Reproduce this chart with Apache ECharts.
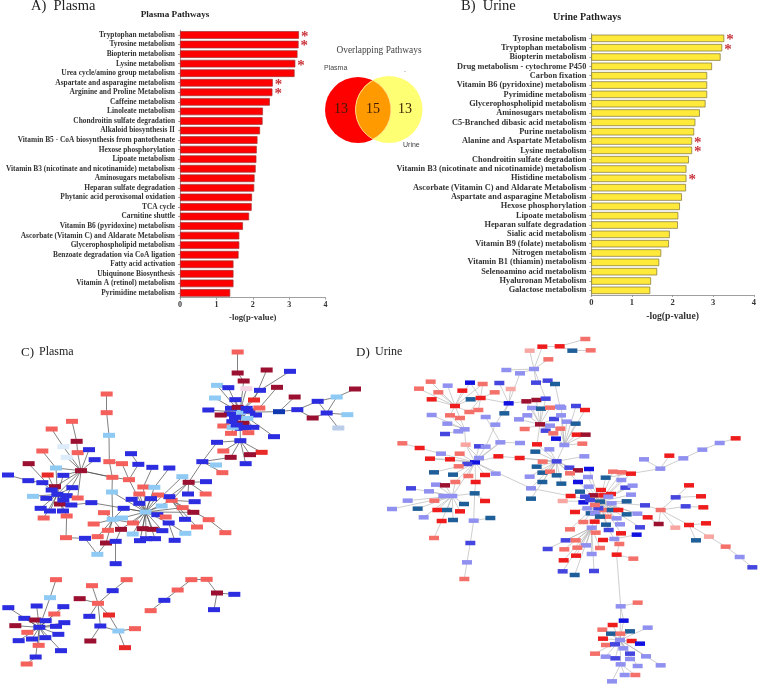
<!DOCTYPE html>
<html><head><meta charset="utf-8">
<style>html,body{margin:0;padding:0;background:#fff}#c{width:759px;height:684px}</style>
<script src="https://cdn.jsdelivr.net/npm/echarts@6/dist/echarts.min.js"></script>
</head><body><div id="c"></div>
<script>
const plasmaPathways=['Tryptophan metabolism','Tyrosine metabolism','Biopterin metabolism','Lysine metabolism','Urea cycle/amino group metabolism','Aspartate and asparagine metabolism','Arginine and Proline Metabolism','Caffeine metabolism','Linoleate metabolism','Chondroitin sulfate degradation','Alkaloid biosynthesis II','Vitamin B5 - CoA biosynthesis from pantothenate','Hexose phosphorylation','Lipoate metabolism','Vitamin B3 (nicotinate and nicotinamide) metabolism','Aminosugars metabolism','Heparan sulfate degradation','Phytanic acid peroxisomal oxidation','TCA cycle','Carnitine shuttle','Vitamin B6 (pyridoxine) metabolism','Ascorbate (Vitamin C) and Aldarate Metabolism','Glycerophospholipid metabolism','Benzoate degradation via CoA ligation','Fatty acid activation','Ubiquinone Biosynthesis','Vitamin A (retinol) metabolism','Pyrimidine metabolism'];
const plasmaValues=[3.27,3.26,3.23,3.17,3.15,2.55,2.54,2.47,2.28,2.27,2.20,2.13,2.11,2.10,2.08,2.05,2.04,1.98,1.97,1.90,1.73,1.63,1.63,1.61,1.47,1.47,1.47,1.38];
const plasmaStarred=[0,1,3,5,6];
const urinePathways=['Tyrosine metabolism','Tryptophan metabolism','Biopterin metabolism','Drug metabolism - cytochrome P450','Carbon fixation','Vitamin B6 (pyridoxine) metabolism','Pyrimidine metabolism','Glycerophospholipid metabolism','Aminosugars metabolism','C5-Branched dibasic acid metabolism','Purine metabolism','Alanine and Aspartate Metabolism','Lysine metabolism','Chondroitin sulfate degradation','Vitamin B3 (nicotinate and nicotinamide) metabolism','Histidine metabolism','Ascorbate (Vitamin C) and Aldarate Metabolism','Aspartate and asparagine Metabolism','Hexose phosphorylation','Lipoate metabolism','Heparan sulfate degradation','Sialic acid metabolism','Vitamin B9 (folate) metabolism','Nitrogen metabolism','Vitamin B1 (thiamin) metabolism','Selenoamino acid metabolism','Hyaluronan Metabolism','Galactose metabolism'];
const urineValues=[3.27,3.22,3.18,2.97,2.85,2.85,2.85,2.81,2.67,2.56,2.53,2.48,2.48,2.40,2.34,2.34,2.33,2.23,2.18,2.14,2.13,1.93,1.91,1.72,1.67,1.62,1.47,1.45];
const urineStarred=[0,1,11,12,15];
const xTicks=[0,1,2,3,4];
const vennSets=[[358,110,33],[389,109.5,33.5]];
const vennCounts=[[341,109,13],[373,109,15],[405,109,13]];

// Network panels: node positions, flat x,y,class triples; first node of a star is its hub.
const plasmaStars=[
[720,217,'l',693,205,'b',713,202,'d',748,213,'b',690,222,'b',768,225,'b',742,235,'l',697,245,'b',730,250,'d',662,225,'d',670,258,'r',760,262,'b',722,265,'b',698,262,'l',693,280,'r',745,278,'r',625,210,'b',706,179,'b',762,180,'R',778,204,'r',731,123,'d',651,136,'l',685,143,'b',739,146,'k',780,151,'b',645,174,'l',822,290,'b',721,302,'b',837,215,'n',740,205,'b',705,232,'b',735,262,'b',710,255,'b'],
[721,302,'b',670,333,'r',785,337,'R',692,352,'d',750,344,'d',737,371,'b',651,307,'b'],
[607,365,'b',648,375,'l',667,398,'r',692,352,'d',651,307,'b',566,427,'d'],
[566,427,'d',547,410,'l',618,425,'b',564,462,'b',515,481,'r',617,462,'r',508,470,'b'],
[437,516,'l',547,410,'l',430,441,'r',463,442,'l',418,462,'r',474,465,'r',395,478,'b',453,476,'b',418,490,'b',515,481,'r',485,498,'l',548,503,'r',371,505,'b',472,524,'b',497,531,'r',506,549,'b',399,549,'r',428,566,'d',458,568,'d',487,572,'b',398,582,'l',438,596,'b',465,596,'b',420,602,'b',363,568,'d',274,488,'b',580,517,'d',366,534,'l',387,419,'r',336,456,'l'],
[515,481,'r',584,485,'b',555,538,'b',626,539,'r',548,503,'r',591,561,'r'],
[338,538,'l',371,505,'b',281,552,'r',312,518,'r',399,549,'r',324,571,'r',363,568,'d',293,590,'r',318,609,'d',336,456,'l'],
[243,392,'d',233,338,'r',267,329,'b',284,359,'b',168,384,'l',200,352,'w',172,463,'b',200,467,'b',165,440,'d',233,474,'r',190,406,'b',190,320,'w',337,412,'r'],
[172,463,'b',168,384,'l',143,405,'R',127,428,'b',165,440,'d',190,406,'b',217,443,'b',99,469,'l',139,475,'b',200,467,'b',233,474,'r',180,492,'d',214,495,'b',122,505,'b',150,513,'b',189,513,'b',131,534,'r',200,528,'r',86,371,'d',155,450,'b',190,480,'b'],
[118,862,'b',150,773,'l',110,798,'b',73,835,'b',106,840,'d',137,842,'b',163,822,'r',193,848,'b',46,857,'d',168,859,'b',82,877,'r',175,883,'b',56,902,'b',96,897,'b',136,893,'b',116,916,'r',183,932,'b',107,951,'b',190,800,'b',25,803,'b'],
[294,790,'r',276,737,'r',338,752,'b',239,776,'d',268,829,'b',327,825,'R',301,858,'b'],
[355,873,'l',301,858,'b',327,825,'R',405,866,'r',375,923,'R']
];
const plasmaChains=[
[713,36,'r',713,99,'d',731,123,'d'],[800,90,'d',762,180,'R'],[870,94,'b',780,151,'b'],[831,142,'d',778,204,'r'],
[884,171,'d',837,215,'n',892,209,'b',953,184,'b',1010,171,'l',980,219,'b',953,184,'b'],[980,219,'b',1015,264,'g'],[892,209,'b',938,234,'d',980,219,'b',1042,224,'l'],[1010,171,'l',1065,147,'d'],
[243,392,'d',337,412,'r',387,419,'r'],[337,412,'r',328,365,'r',327,286,'l',320,218,'r',320,162,'r'],[328,365,'r',366,371,'r',387,419,'r',415,373,'b',393,341,'b'],
[457,382,'b',430,441,'r'],[508,384,'b',463,442,'l'],[336,456,'l',337,412,'r'],[626,539,'r',676,578,'r'],
[347,671,'b',347,604,'b',363,568,'d'],[292,643,'l',318,609,'d'],[292,643,'l',255,595,'b',198,593,'r',200,528,'r'],[506,549,'b',524,601,'b'],[506,549,'b',556,580,'l'],
[216,244,'r',230,304,'d',233,338,'r'],[155,267,'r',190,320,'w'],[24,405,'b',85,422,'b',127,428,'b'],[127,333,'r',168,384,'l'],[214,495,'b',274,488,'b'],
[168,719,'r',150,773,'l'],[107,951,'b',80,972,'r'],[338,752,'b',380,719,'r'],[301,858,'b',271,903,'d'],
[452,812,'r',493,781,'b',533,750,'r',574,719,'r',620,718,'r',651,759,'d',703,763,'b'],[651,759,'d',642,809,'b']
];
const urineStars=[
[750,485,'t',700,487,'B',720,480,'s',785,490,'v',830,484,'t',885,496,'s',675,516,'R',722,520,'t',735,520,'v',763,510,'r',785,510,'t',805,510,'R',830,523,'t',862,521,'v',893,532,'R',734,545,'R',700,546,'r',768,554,'t',810,553,'v',870,562,'s',725,563,'v',690,455,'t',662,468,'R',638,483,'p',716,440,'v',753,450,'R',730,466,'d',760,466,'R',783,462,'R',843,464,'v',767,413,'t',814,420,'v',826,443,'s',848,437,'v',789,395,'r',815,397,'r',843,401,'R',684,426,'B',714,411,'v',717,387,'B',776,570,'s',813,580,'R',737,578,'r',660,568,'r',745,505,'s',712,505,'v',770,530,'r',800,535,'v',750,530,'t',735,495,'r',775,470,'v',705,470,'s'],
[725,563,'v',647,601,'s',677,601,'r',708,616,'v',593,627,'s',643,628,'r',682,623,'r',750,624,'r',725,642,'v',678,647,'R',641,661,'R',638,694,'s',674,705,'t',732,693,'s'],
[793,597,'v',776,570,'s',759,600,'R',808,612,'r',813,580,'R',860,584,'B'],
[800,644,'R',808,612,'r',850,656,'r',812,799,'v'],
[620,364,'s',643,315,'v',598,328,'v',556,335,'t',578,365,'r',560,380,'t',577,398,'t',600,395,'r',620,406,'t',658,383,'s',684,391,'d',660,400,'r',703,349,'v',577,426,'t',634,431,'t',539,410,'v',543,445,'v',543,476,'t',509,354,'R',561,313,'R',684,426,'B'],
[570,253,'d',546,204,'v',573,206,'t',600,203,'r',532,226,'v',507,238,'v',612,237,'s',600,257,'v',587,272,'s',524,267,'r',610,280,'r',561,313,'R',529,184,'d',559,180,'d',587,176,'s',631,266,'r'],
[643,315,'v',618,296,'B',631,266,'r',633,226,'v',650,245,'v',677,251,'t',678,198,'s',705,210,'R',634,203,'v',680,284,'R',707,284,'d',697,311,'r',587,272,'s'],
[375,367,'B',352,372,'s',387,354,'v',329,341,'r',326,379,'r',300,358,'R',273,341,'v',240,356,'R',309,404,'t',252,397,'t',355,408,'r',405,405,'R',437,401,'v',377,426,'R',445,349,'R',451,307,'v',387,319,'s',347,314,'p',316,426,'r',307,468,'v'],
[307,468,'v',280,468,'v',258,434,'v',285,436,'d',316,426,'r',237,454,'v',183,445,'s',173,482,'v',253,482,'r',342,492,'t',203,506,'t',262,510,'R',291,510,'t',330,514,'R',221,532,'v',275,543,'R',309,540,'t',374,460,'t',126,507,'v'],
[315,198,'R',337,152,'R',265,157,'r',245,178,'R',242,125,'r',293,137,'v',207,146,'r',300,226,'r',358,216,'r',330,234,'r',362,178,'t',360,128,'B',398,132,'r'],
[392,174,'R',360,128,'B',398,132,'r',362,178,'t',385,210,'r',358,216,'r',434,157,'r',476,190,'B'],
[476,190,'B',448,129,'s',482,147,'p',463,220,'t',436,254,'v',529,184,'d',510,100,'v'],
[552,87,'v',469,90,'v',510,100,'v',539,32,'p',577,20,'R',595,58,'r',558,128,'s',587,176,'s'],
[344,268,'v',325,274,'v',292,251,'v',285,282,'s',330,234,'r',300,226,'r',347,314,'p',245,225,'v'],
[932,510,'r',885,496,'s',977,472,'s',1007,499,'s',1017,555,'R',926,552,'d'],
[812,799,'v',863,788,'r',821,842,'B',810,900,'v'],
[810,900,'v',788,855,'R',757,869,'r',840,874,'t',783,881,'t',811,881,'r',893,863,'v',759,896,'R',845,903,'R',870,911,'B',768,915,'r',795,913,'s',820,925,'v',735,941,'r',767,950,'v',796,955,'s',840,941,'s',840,957,'v',888,949,'v',812,973,'v',863,978,'v',932,976,'v',821,842,'B'],
[812,973,'v',824,1005,'v',856,1005,'r',786,1024,'v']
];
const urineChains=[
[706,-3,'r',629,19,'R',577,20,'R'],[667,32,'t',722,31,'r'],[629,19,'R',667,32,'t'],[593,122,'s',615,132,'t',630,200,'v'],[558,128,'s',593,122,'s'],
[157,310,'r',209,324,'R',273,341,'v'],[240,356,'R',300,358,'R'],[347,314,'p',387,354,'v'],[407,231,'v',451,307,'v',387,354,'v'],[436,254,'v',407,320,'v',375,367,'B'],[510,309,'v',451,307,'v'],[445,349,'R',509,354,'R',620,364,'s'],
[375,367,'B',543,445,'v',662,468,'R'],[377,426,'R',374,460,'t',371,542,'v',361,609,'s',351,667,'v',343,717,'r'],[371,542,'v',421,534,'t'],[405,483,'R',374,460,'t'],[275,543,'R',252,594,'r'],
[767,413,'t',931,386,'v',1000,355,'v',1057,329,'v',1109,309,'v',1157,295,'R'],[931,386,'v',882,358,'v'],[931,386,'v',958,347,'R'],
[977,472,'s',1017,436,'R'],[977,472,'s',1053,469,'R'],[1007,499,'s',1060,502,'R'],[932,510,'r',976,563,'p'],[1017,555,'R',1068,550,'R'],[1017,555,'R',1038,601,'t'],[1017,555,'R',1077,590,'p',1127,620,'r',1169,651,'v',1207,682,'s'],[893,532,'R',926,552,'d']
];
const plasmaClasses={r:'#f4605c',d:'#9b1030',R:'#e82a28',b:'#2c2ce0',l:'#8fcaf5',w:'#dcecfb',k:'#f5d5e5',n:'#1038b0',g:'#b9cde8'};
const urineClasses={r:'#f4706a',p:'#f7a6a2',R:'#ee1c1c',d:'#9c1030',B:'#1212e0',s:'#4545e0',v:'#9090f0',t:'#1f5f99'};

function buildGraph(stars,chains,classes){
  const nodes=[],links=[],idx={};
  const add=(x,y,c)=>{const k=x+','+y;if(!(k in idx)){idx[k]=nodes.length;nodes.push({value:[x,y],itemStyle:{color:classes[c]}});}return idx[k];};
  stars.forEach(g=>{const h=add(g[0],g[1],g[2]);for(let i=3;i<g.length;i+=3)links.push({source:h,target:add(g[i],g[i+1],g[i+2])});});
  chains.forEach(g=>{let p=add(g[0],g[1],g[2]);for(let i=3;i<g.length;i+=3){const n=add(g[i],g[i+1],g[i+2]);links.push({source:p,target:n});p=n;}});
  return {nodes,links};
}
const SERIF='"Liberation Serif","Times New Roman",serif', SANS='"Liberation Sans",Arial,sans-serif';
function barSeries(vals,starred,color,border,gi,bw,dist){
  return {type:'bar',xAxisIndex:gi,yAxisIndex:gi,barWidth:bw,silent:true,
    itemStyle:{color:color,borderColor:border,borderWidth:.7},
    data:vals.map((v,i)=>starred.includes(i)?{value:v,label:{show:true,position:'right',distance:dist,formatter:'*',color:'#c8343c',fontFamily:SERIF,fontWeight:'bold',fontSize:15,offset:[0,2]}}:v)};
}
function catAxis(gi,names,fs){return {type:'category',gridIndex:gi,inverse:true,data:names,axisLine:{show:true,lineStyle:{color:'#888',width:.8}},axisTick:{show:true,length:2,lineStyle:{color:'#888',width:.8},alignWithLabel:true},axisLabel:{interval:0,margin:5,fontFamily:SERIF,fontWeight:'bold',fontSize:fs,color:'#333'}};}
function valAxis(gi,gap,nameFs,tickFs){return {type:'value',gridIndex:gi,min:xTicks[0],max:xTicks[4],interval:1,splitLine:{show:false},name:'-log(p-value)',nameLocation:'middle',nameGap:gap,nameTextStyle:{fontFamily:SERIF,fontWeight:'bold',fontSize:nameFs,color:'#333'},axisLine:{show:true,lineStyle:{color:'#888',width:.8}},axisTick:{show:true,length:2,lineStyle:{color:'#888',width:.8}},axisLabel:{margin:3,fontFamily:SERIF,fontWeight:'bold',fontSize:tickFs,color:'#333'}};}
function hidden(gi,min,max,inv){return {type:'value',gridIndex:gi,min,max,inverse:!!inv,show:false,splitLine:{show:false}};}
function graphSeries(g,gi,size,lineColor,lw){return {type:'graph',layout:'none',coordinateSystem:'cartesian2d',xAxisIndex:gi,yAxisIndex:gi,symbol:'rect',symbolSize:size,silent:true,animation:false,data:g.nodes,links:g.links,lineStyle:{color:lineColor,width:lw,opacity:1,curveness:0},label:{show:false},emphasis:{disabled:true},z:3};}
function txt(x,y,t,size,o){return {type:'text',x,y,z:20,silent:true,style:Object.assign({text:t,fontFamily:SERIF,fontSize:size,fill:'#222',textAlign:'left',textVerticalAlign:'middle'},o||{})};}

const chart=echarts.init(document.getElementById('c'),null,{renderer:'canvas'});
chart.setOption({animation:false,backgroundColor:'#fff',
 grid:[{left:180,top:30.2,width:145.5,height:267.5},{left:591.3,top:33.7,width:163,height:261.3},{left:0,top:340,width:350,height:344},{left:350,top:340,width:409,height:344},{left:0,top:0,width:759,height:684}],
 xAxis:[valAxis(0,16,8.7,8),valAxis(1,16,9.7,8.5),hidden(2,0,1050),hidden(3,0,1227),hidden(4,0,759)],
 yAxis:[catAxis(0,plasmaPathways,7.4),catAxis(1,urinePathways,8.3),hidden(2,0,1032,true),hidden(3,0,1032,true),hidden(4,0,684,true)],
 series:[
  barSeries(plasmaValues,plasmaStarred,'#ff0000','#a03434',0,7.6,2),
  barSeries(urineValues,urineStarred,'#ffe93a','#7d7238',1,7.4,2),
  graphSeries(buildGraph(plasmaStars,plasmaChains,plasmaClasses),2,[12,5],'#4a4a4a',.7),
  graphSeries(buildGraph(urineStars,urineChains,urineClasses),3,[10,4.5],'#adadad',.6),
  {type:'custom',xAxisIndex:4,yAxisIndex:4,silent:true,clip:false,data:vennSets,z:2,
   renderItem:(p,api)=>{
     const a=api.coord([vennSets[0][0],vennSets[0][1]]),b=api.coord([vennSets[1][0],vennSets[1][1]]);
     const r=vennSets[0][2],s=vennSets[1][2];
     if(p.dataIndex===0)return {type:'circle',shape:{cx:a[0],cy:a[1],r},style:{fill:'#ff0000'}};
     const d=b[0]-a[0],ix=(d*d+r*r-s*s)/(2*d),h=Math.sqrt(r*r-ix*ix),x=a[0]+ix,y=(a[1]+b[1])/2;
     return {type:'group',children:[
       {type:'circle',shape:{cx:b[0],cy:b[1],r:s},style:{fill:'#ffff73'}},
       {type:'path',shape:{pathData:`M ${x} ${y-h} A ${r} ${r} 0 0 1 ${x} ${y+h} A ${s} ${s} 0 0 1 ${x} ${y-h} Z`},style:{fill:'#ff9a00',stroke:'#ffe9a0',lineWidth:.8}}
     ]};
   }}
 ],
 graphic:[
  txt(31,6,'A)  Plasma',14.5),txt(175,15,'Plasma Pathways',9.2,{textAlign:'center',fontWeight:'bold'}),
  txt(461,6,'B)  Urine',14.5),txt(587,17,'Urine Pathways',10,{textAlign:'center',fontWeight:'bold'}),
  txt(379,51,'Overlapping Pathways',9.4,{textAlign:'center',fill:'#444'}),
  txt(324,68,'Plasma',7,{fontFamily:SANS,fill:'#444'}),txt(403,145,'Urine',7,{fontFamily:SANS,fill:'#444'}),
  txt(404,71,'-',6,{fontFamily:SANS,fill:'#888'}),
  ...vennCounts.map(v=>txt(v[0],v[1],String(v[2]),14,{textAlign:'center',fill:'#3a1a00'})),
  txt(21,353,'C)',13),txt(39,352,'Plasma',12),txt(356,353,'D)',13),txt(375,352,'Urine',12)
 ]
});
</script></body></html>
